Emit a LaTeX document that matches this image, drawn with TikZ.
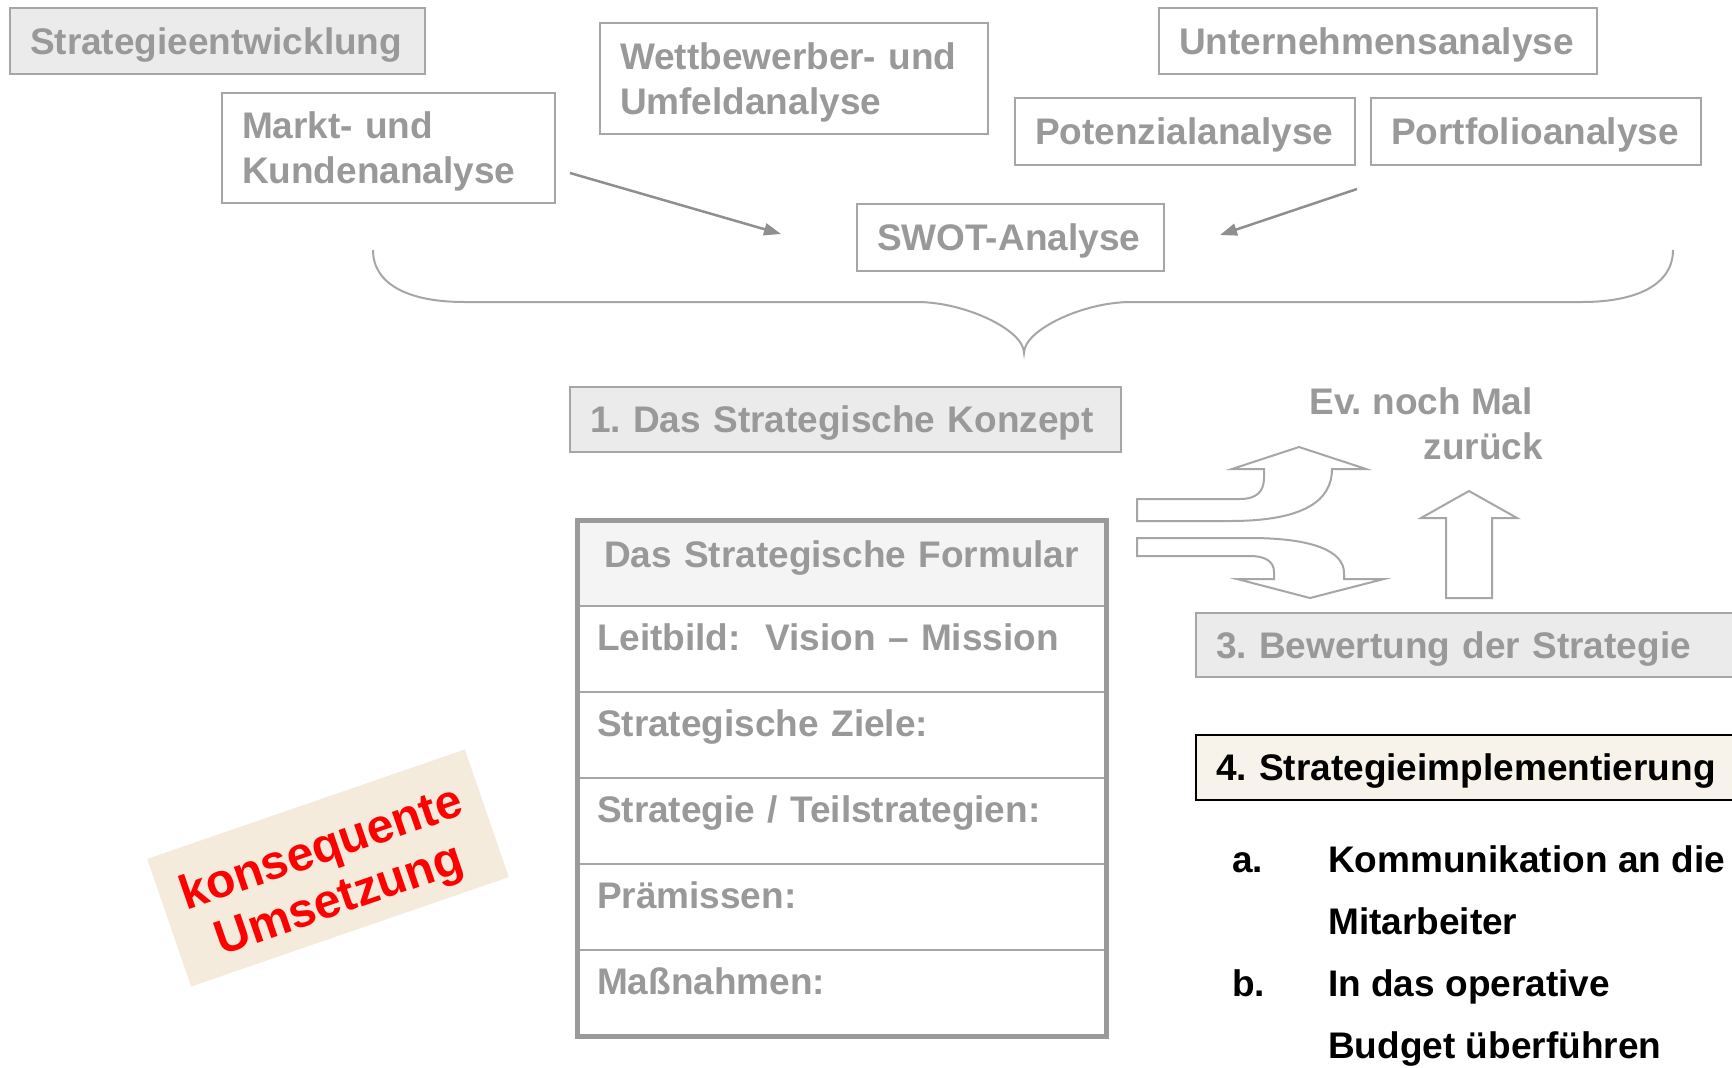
\documentclass[tikz,border=0pt]{standalone}
\usepackage{fontspec}
\setmainfont{Liberation Sans}
\usetikzlibrary{arrows.meta}
\definecolor{txtgray}{HTML}{999999}
\definecolor{linegray}{HTML}{A6A6A6}
\definecolor{framegray}{HTML}{9A9A9A}
\definecolor{arrowgray}{HTML}{8F8F8F}
\definecolor{boxfill}{HTML}{EBEBEB}
\definecolor{headfill}{HTML}{F4F4F4}
\definecolor{beige}{HTML}{F5EBDD}
\definecolor{cream}{HTML}{F8F3EA}
\frenchspacing
\begin{document}
\begin{tikzpicture}[x=1pt,y=-1pt,
  font=\fontsize{37}{45}\selectfont\bfseries\frenchspacing,
  gbox/.style={draw=linegray, line width=2pt, text=txtgray, anchor=north west,
    align=left, inner xsep=20pt, inner ysep=0pt, outer sep=0pt},
  oneline/.style={text height=33.5pt, text depth=7pt},
  twoline/.style={text height=26.5pt, text depth=45pt},
  conn/.style={draw=arrowgray, line width=2.5pt, -{Triangle[length=17pt,width=12pt]}},
  brace/.style={draw=linegray, line width=2pt},
  blockarrow/.style={draw=linegray, line width=2pt, fill=white, line join=miter},
  frow/.style={draw=linegray, line width=2pt, anchor=north west, minimum width=529pt,
    minimum height=86pt, inner xsep=20pt, inner ysep=0pt, outer sep=0pt,
    text width=489pt, align=left, text=txtgray, text height=33.5pt, text depth=31pt},
  listtxt/.style={anchor=base west, inner sep=0pt, text=black},
]
\useasboundingbox (0,0) rectangle (1732,1068);
\fill[white] (0,0) rectangle (1732,1068);
\clip (0,0) rectangle (1732,1068);

% analysis boxes
\node[gbox, oneline, fill=boxfill, text width=375pt, minimum height=66pt] (entw) at (10,8) {Strategieentwicklung};
\node[gbox, twoline, text width=293pt, minimum height=110pt] (markt) at (222,93) {Markt- und\\Kundenanalyse};
\node[gbox, twoline, text width=348pt, minimum height=111pt] (wettb) at (600,23) {Wettbewerber- und\\Umfeldanalyse};
\node[gbox, oneline, text width=398pt, minimum height=66pt] (unt) at (1159,8) {Unternehmensanalyse};
\node[gbox, oneline, text width=300pt, minimum height=67pt] (pot) at (1015,98) {Potenzialanalyse};
\node[gbox, oneline, text width=290pt, minimum height=67pt] (port) at (1371,98) {Portfolioanalyse};
\node[gbox, oneline, text width=267pt, minimum height=67pt] (swot) at (857,204) {SWOT-Analyse};

% arrows into the SWOT analysis
\coordinate (m1) at (570,173);
\coordinate (m2) at (781,234);
\coordinate (p1) at (1357,189);
\coordinate (p2) at (1220,235);
\draw[conn] (m1) -- (m2);
\draw[conn] (p1) -- (p2);

% curly brace
\draw[brace] (373,250) .. controls (373,285) and (410,302) .. (464,302) -- (917,302)
  .. controls (965,302) and (1024,330) .. (1024,353)
  .. controls (1024,330) and (1083,302) .. (1131,302) -- (1582,302)
  .. controls (1636,302) and (1673,285) .. (1673,250);

% step boxes
\node[gbox, oneline, fill=boxfill, text width=511pt, minimum height=65pt] (konzept) at (570,387) {1. Das Strategische Konzept};
\node[gbox, oneline, fill=boxfill, text width=560pt, minimum height=64pt] (bewert) at (1196,613) {3. Bewertung der Strategie};
\node[gbox, oneline, fill=cream, draw=black, line width=2.5pt, text=black, text width=560pt, minimum height=65pt] (impl) at (1196,735) {4. Strategieimplementierung};

% formular table
\node[frow, fill=headfill, align=center, text depth=25pt] (f0) at (577,520) {Das Strategische Formular};
\node[frow] (f1) at (577,606) {Leitbild:\ \ Vision – Mission};
\node[frow] (f2) at (577,692) {Strategische Ziele:};
\node[frow] (f3) at (577,778) {Strategie / Teilstrategien:};
\node[frow] (f4) at (577,864) {Prämissen:};
\node[frow] (f5) at (577,950) {Maßnahmen:};
\node[draw=framegray, line width=5pt, anchor=north west, minimum width=529pt,
  minimum height=516pt, inner sep=0pt, outer sep=0pt] (formular) at (577,520) {};

% block arrows
\draw[blockarrow] (1137,499) -- (1240,499) .. controls (1256,499) and (1264,492) .. (1264,478)
  -- (1264,469) -- (1232,469) -- (1299,447) -- (1366,469) -- (1332,469)
  .. controls (1332,500) and (1305,521) .. (1230,521) -- (1137,521) -- cycle;
\draw[blockarrow] (1137,538) -- (1250,538) .. controls (1315,538) and (1344,552) .. (1344,573)
  -- (1344,579) -- (1384,579) -- (1310,598) -- (1237,579) -- (1274,579) -- (1274,572)
  .. controls (1274,562) and (1266,556) .. (1250,556) -- (1137,556) -- cycle;
\draw[blockarrow] (1446,598) -- (1446,518) -- (1421,518) -- (1469,491) -- (1517,518)
  -- (1492,518) -- (1492,598) -- cycle;

\node[anchor=base east, inner sep=0pt, text=txtgray] (ev1) at (1533,414.5) {Ev. noch Mal};
\node[anchor=base east, inner sep=0pt, text=txtgray] (ev2) at (1543,459.5) {zurück};

% implementation steps
\node[listtxt] (la) at (1232,872) {a.};
\node[listtxt] (ta1) at (1328,872) {Kommunikation an die};
\node[listtxt] (ta2) at (1328,934) {Mitarbeiter};
\node[listtxt] (lb) at (1232,996) {b.};
\node[listtxt] (tb1) at (1328,996) {In das operative};
\node[listtxt] (tb2) at (1328,1058) {Budget überführen};

% stamp
\node[fill=beige, rotate=19, minimum width=336pt, minimum height=135pt, inner sep=0pt,
  text=red, align=center, text width=320pt, text height=34pt, text depth=46pt,
  font=\fontsize{48}{54}\selectfont\bfseries] (stamp) at (328,868)
  {konsequente\\Umsetzung};
\end{tikzpicture}
\end{document}
